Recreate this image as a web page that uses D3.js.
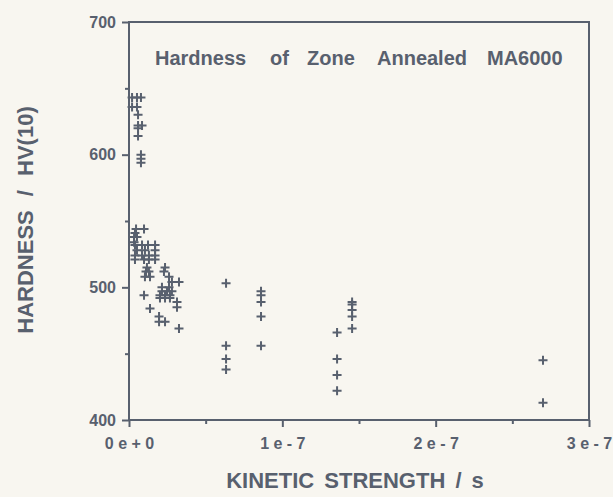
<!DOCTYPE html>
<html>
<head>
<meta charset="utf-8">
<script src="https://cdn.jsdelivr.net/npm/d3@7"></script>
<style>
  html, body { margin: 0; padding: 0; background: #f8f6f0; }
  text { font-family: "Liberation Sans", Arial, sans-serif; font-weight: bold; fill: #58606e; }
</style>
</head>
<body>
<div id="canvas"></div>
<script>
"use strict";

/* ===============================
   Data
   kinetic strength in units of 1e-7 s, hardness in HV(10) */
let kinetic = [
  0.020, 0.052, 0.078, 0.020, 0.052, 0.059, 0.059, 0.085, 0.059, 0.059, 0.078, 0.078, 0.078,
  0.046, 0.098, 0.039, 0.033, 0.052, 0.033,
  0.039, 0.085, 0.124, 0.170, 0.052, 0.104, 0.170,
  0.039, 0.085, 0.130, 0.170, 0.039, 0.098, 0.130, 0.170,
  0.117, 0.235, 0.111, 0.130, 0.228, 0.104, 0.137, 0.261,
  0.280, 0.326, 0.215, 0.261, 0.215, 0.248, 0.280,
  0.098, 0.202, 0.235, 0.267, 0.202, 0.235, 0.267,
  0.313, 0.313, 0.137, 0.196, 0.196, 0.235, 0.326,
  0.633, 0.633, 0.633, 0.633,
  0.861, 0.861, 0.861, 0.861, 0.861,
  1.357, 1.357, 1.357, 1.357,
  1.455, 1.455, 1.455, 1.455, 1.455,
  2.700, 2.700
];
let hardness = [
  643, 643, 643, 636, 636, 630, 622, 622, 620, 614, 600, 597, 594,
  544, 544, 541, 538, 538, 534,
  532, 532, 532, 532, 528, 528, 528,
  524, 524, 524, 524, 521, 521, 521, 521,
  515, 515, 512, 512, 512, 508, 508, 508,
  504, 504, 500, 500, 497, 497, 497,
  494, 494, 494, 494, 492, 492, 492,
  489, 485, 484, 478, 474, 474, 469,
  503, 456, 446, 438,
  497, 494, 489, 478, 456,
  466, 446, 434, 422,
  489, 487, 483, 478, 469,
  445, 413
];

let xMajor = [0, 1, 2, 3];
let xMinor = [0.5, 1.5, 2.5];
let yMajor = [400, 500, 600, 700];
let yMinor = [450, 550, 650];
let xTickLabels = ["0 e + 0", "1 e - 7", "2 e - 7", "3 e - 7"];

let chartTitle = ["Hardness", "of", "Zone", "Annealed", "MA6000"];

/* ===============================
   Layout */
let svgWidth = 613;
let svgHeight = 497;
let plotLeft = 129;
let plotRight = 589;
let plotTop = 22;
let plotBottom = 420;
let ink = "#58606e";

let svg = d3.select("#canvas")
  .append("svg")
  .attr("width", svgWidth)
  .attr("height", svgHeight);

svg.append("rect")
  .attr("width", svgWidth)
  .attr("height", svgHeight)
  .attr("fill", "#f8f6f0");

let xScale = d3.scaleLinear()
  .domain([0, 3])
  .range([plotLeft, plotRight]);

let yScale = d3.scaleLinear()
  .domain([400, 700])
  .range([plotBottom, plotTop]);

/* Frame */
svg.append("rect")
  .attr("x", plotLeft)
  .attr("y", plotTop)
  .attr("width", plotRight - plotLeft)
  .attr("height", plotBottom - plotTop)
  .attr("fill", "none")
  .attr("stroke", ink)
  .attr("stroke-width", 2);

/* X axis */
let xAxis = svg.append("g")
  .attr("transform", "translate(0," + plotBottom + ")")
  .call(d3.axisBottom(xScale)
    .tickValues(xMajor)
    .tickSize(7)
    .tickPadding(11)
    .tickFormat(function (d, i) { return xTickLabels[i]; }));

svg.append("g")
  .attr("transform", "translate(0," + plotBottom + ")")
  .call(d3.axisBottom(xScale)
    .tickValues(xMinor)
    .tickSize(4)
    .tickFormat(""));

/* Y axis */
svg.append("g")
  .attr("transform", "translate(" + plotLeft + ",0)")
  .call(d3.axisLeft(yScale)
    .tickValues(yMajor)
    .tickSize(7)
    .tickPadding(6));

svg.append("g")
  .attr("transform", "translate(" + plotLeft + ",0)")
  .call(d3.axisLeft(yScale)
    .tickValues(yMinor)
    .tickSize(4)
    .tickFormat(""));

svg.selectAll(".domain").remove();
svg.selectAll(".tick line")
  .attr("stroke", ink)
  .attr("stroke-width", 2);
svg.selectAll(".tick text")
  .attr("fill", ink)
  .style("font-size", "16px");

/* Points: plus markers */
let points = kinetic.map(function (k, i) { return { k: k, h: hardness[i] }; });

svg.selectAll("path.dataPoint")
  .data(points)
  .join("path")
  .attr("class", "dataPoint")
  .attr("transform", function (d) {
    return "translate(" + xScale(d.k) + "," + yScale(d.h) + ")";
  })
  .attr("d", "M-4.5,0H4.5M0,-4.5V4.5")
  .attr("fill", "none")
  .attr("stroke", ink)
  .attr("stroke-width", 2);

/* Title, word by word with wide gaps */
let titleX = [155, 270, 307, 377, 487];
svg.selectAll("text.title")
  .data(chartTitle)
  .join("text")
  .attr("class", "title")
  .attr("x", function (d, i) { return titleX[i]; })
  .attr("y", 65)
  .style("font-size", "20px")
  .text(function (d) { return d; });

/* Axis titles */
svg.append("text")
  .attr("x", 355)
  .attr("y", 488)
  .attr("text-anchor", "middle")
  .style("font-size", "22px")
  .style("word-spacing", "4px")
  .text("KINETIC STRENGTH / s");

svg.append("text")
  .attr("transform", "translate(33,220) rotate(-90)")
  .attr("text-anchor", "middle")
  .style("font-size", "22px")
  .style("word-spacing", "8px")
  .text("HARDNESS / HV(10)");
</script>
</body>
</html>
